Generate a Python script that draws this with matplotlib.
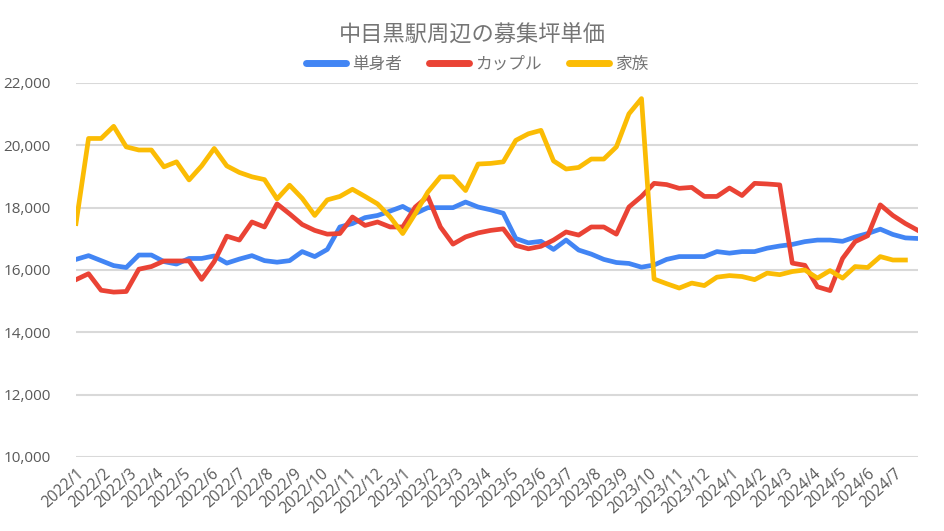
import pandas as pd
import matplotlib.pyplot as plt
import matplotlib.dates as mdates
from matplotlib.ticker import FuncFormatter

plt.rcParams['font.family'] = ['Open Sans', 'Noto Sans CJK JP', 'DejaVu Sans']

# 2週間ごとの募集坪単価
dates = pd.date_range('2022-01-01', periods=68, freq='14D')

single = [16340, 16460, 16300, 16140, 16080, 16480, 16480, 16270, 16190, 16370,
          16370, 16450, 16220, 16350, 16460, 16300, 16250, 16300, 16590, 16430,
          16660, 17380, 17490, 17680, 17750, 17890, 18040, 17810, 18000, 18000,
          18000, 18180, 18020, 17930, 17820, 17010, 16870, 16920, 16660, 16960,
          16640, 16510, 16340, 16240, 16210, 16090, 16160, 16340, 16430, 16430,
          16430, 16590, 16540, 16590, 16590, 16700, 16770, 16820, 16910, 16960,
          16960, 16920, 17060, 17170, 17310, 17140, 17030, 17010]

couple = [15690, 15880, 15350, 15290, 15310, 16025, 16110, 16290, 16290, 16290,
          15700, 16270, 17085, 16960, 17540, 17380, 18120, 17800, 17460, 17270,
          17150, 17170, 17700, 17430, 17540, 17380, 17380, 18020, 18360, 17380,
          16830, 17060, 17190, 17270, 17320, 16790, 16680, 16760, 16960, 17220,
          17120, 17380, 17380, 17150, 18020, 18360, 18780, 18740, 18620, 18650,
          18360, 18360, 18630, 18390, 18780, 18760, 18730, 16220, 16150, 15460,
          15340, 16370, 16910, 17100, 18090, 17750, 17490, 17270]

family = [17490, 20220, 20220, 20610, 19950, 19850, 19850, 19310, 19470, 18890,
          19340, 19900, 19340, 19130, 18990, 18900, 18280, 18720, 18300, 17750,
          18250, 18360, 18590, 18360, 18120, 17700, 17170, 17810, 18500, 18990,
          18990, 18550, 19400, 19420, 19470, 20160, 20370, 20480, 19500, 19240,
          19290, 19560, 19560, 19950, 21010, 21500, 15710, 15560, 15420, 15580,
          15500, 15770, 15820, 15790, 15690, 15900, 15850, 15950, 16000, 15740,
          15980, 15740, 16110, 16080, 16430, 16320, 16320]

fig = plt.figure(figsize=(9.45, 5.31), dpi=100)
ax = fig.add_axes([0.0804, 0.1394, 0.8910, 0.7043])

ax.plot(dates, single, color='#4285F4', lw=3.4, label='単身者', solid_joinstyle='round')
ax.plot(dates, couple, color='#EA4335', lw=3.4, label='カップル', solid_joinstyle='round')
ax.plot(dates[:len(family)], family, color='#FBBC04', lw=3.4, label='家族', solid_joinstyle='round')

ax.set_ylim(10000, 22000)
ax.set_yticks(range(10000, 22001, 2000))
ax.yaxis.set_major_formatter(FuncFormatter(lambda v, p: f'{int(v):,}'))
ax.set_xlim(dates[0], dates[-1])
ax.xaxis.set_major_locator(mdates.MonthLocator())
ax.xaxis.set_major_formatter(FuncFormatter(
    lambda v, p: f'{mdates.num2date(v).year}/{mdates.num2date(v).month}'))

ax.grid(axis='y', color='#d9d9d9', lw=1.5)
ax.set_axisbelow(True)
for s in ax.spines.values():
    s.set_visible(False)
ax.tick_params(axis='both', length=0, colors='#595959')
ax.tick_params(axis='y', labelsize=11, pad=18)
ax.tick_params(axis='x', labelsize=11.2, pad=6)
for lbl in ax.get_xticklabels():
    lbl.set_rotation(42)
    lbl.set_ha('right')
    lbl.set_rotation_mode('anchor')

fig.text(0.5, 0.932, '中目黒駅周辺の募集坪単価', ha='center', va='center',
         fontsize=16, color='#757575')
leg = fig.legend(loc='center', bbox_to_anchor=(0.505, 0.878), ncol=3, frameon=False,
                 fontsize=12, handlelength=2.4, columnspacing=1.6, handletextpad=0.4)
for t in leg.get_texts():
    t.set_color('#757575')
for h in leg.get_lines():
    h.set_linewidth(5)
    h.set_solid_capstyle('round')

fig.savefig('out.png', dpi=100)
